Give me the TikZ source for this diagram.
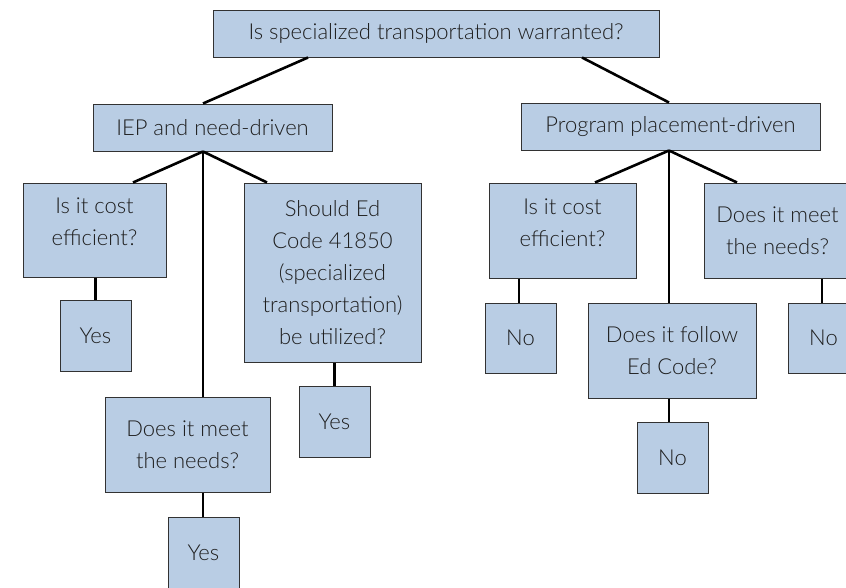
\documentclass[tikz,border=0pt]{standalone}
\usepackage{fontspec}
\setmainfont{Lato}[UprightFont=* Light]
\usepackage{xcolor}
\definecolor{boxblue}{RGB}{185,205,228}
\definecolor{boxline}{RGB}{50,50,50}
\definecolor{txt}{RGB}{30,30,30}

\begin{document}
\begin{tikzpicture}[
  x=1pt,y=-1pt,
  every node/.style={font=\fontsize{22}{32}\selectfont,text=txt,align=center},
  q/.style={draw=boxline,line width=1pt,fill=boxblue,inner sep=0pt},
  link/.style={line width=2.6pt,black}
]
\clip (0,0) rectangle (846,587);

\node[q,minimum width=446,minimum height=47] (top) at (436,33.5) {Is specialized transportation warranted?};
\node[q,minimum width=239,minimum height=47] (iep) at (212.5,127.5) {IEP and need-driven};
\node[q,minimum width=299,minimum height=47] (prog) at (670.5,126.5) {Program placement-driven};

\node[q,minimum width=143,minimum height=94] (cost1) at (94.5,230) {};
\node (cost1t) at ([yshift=8pt]cost1.center) {Is it cost\\efficient?};
\node[q,minimum width=71,minimum height=71] (yes1) at (95.5,335.5) {Yes};
\node[q,minimum width=177,minimum height=179] (should) at (332.5,272.5) {Should Ed\\Code 41850\\(specialized\\transportation)\\be utilized?};
\node[q,minimum width=71,minimum height=71] (yes2) at (334.5,421.5) {Yes};
\node[q,minimum width=165,minimum height=95] (meet1) at (187.5,444.5) {Does it meet\\the needs?};
\node[q,minimum width=71,minimum height=71] (yes3) at (203.5,552.5) {Yes};

\node[q,minimum width=147,minimum height=95] (cost2) at (562.5,230.5) {};
\node (cost2t) at ([yshift=8pt]cost2.center) {Is it cost\\efficient?};
\node[q,minimum width=71,minimum height=70] (no1) at (520.5,338) {No};
\node[q,minimum width=168,minimum height=95] (follow) at (672,350.5) {Does it follow\\Ed Code?};
\node[q,minimum width=71,minimum height=71] (no3) at (672.5,457.5) {No};
\node[q,minimum width=147,minimum height=95] (meet2) at (777.5,230.5) {Does it meet\\the needs?};
\node[q,minimum width=71,minimum height=70] (no2) at (823.5,338) {No};

\coordinate (iepj) at ([xshift=-9.5pt]iep.south);
\coordinate (progj) at ([xshift=-1.5pt]prog.south);

\draw[link] ([xshift=-128pt]top.south) -- ([xshift=-9.5pt]iep.north);
\draw[link] ([xshift=146pt]top.south) -- ([xshift=-1.5pt]prog.north);

\draw[link] (iepj) -- ([xshift=38.5pt]cost1.north);
\draw[link] (iepj) -- (iepj |- meet1.north);
\draw[link] (iepj) -- ([xshift=-65.5pt]should.north);
\draw[link] (yes1.north |- cost1.south) -- (yes1.north);
\draw[link] (yes2.north |- should.south) -- (yes2.north);
\draw[link] (iepj |- meet1.south) -- (iepj |- yes3.north);

\draw[link] (progj) -- ([xshift=32.5pt]cost2.north);
\draw[link] (progj) -- (progj |- follow.north);
\draw[link] (progj) -- ([xshift=-40.5pt]meet2.north);
\draw[link] ([xshift=-1.5pt]no1.north |- cost2.south) -- ([xshift=-1.5pt]no1.north);
\draw[link] ([xshift=-1.5pt]no2.north |- meet2.south) -- ([xshift=-1.5pt]no2.north);
\draw[link] (progj |- follow.south) -- (progj |- no3.north);
\end{tikzpicture}
\end{document}
